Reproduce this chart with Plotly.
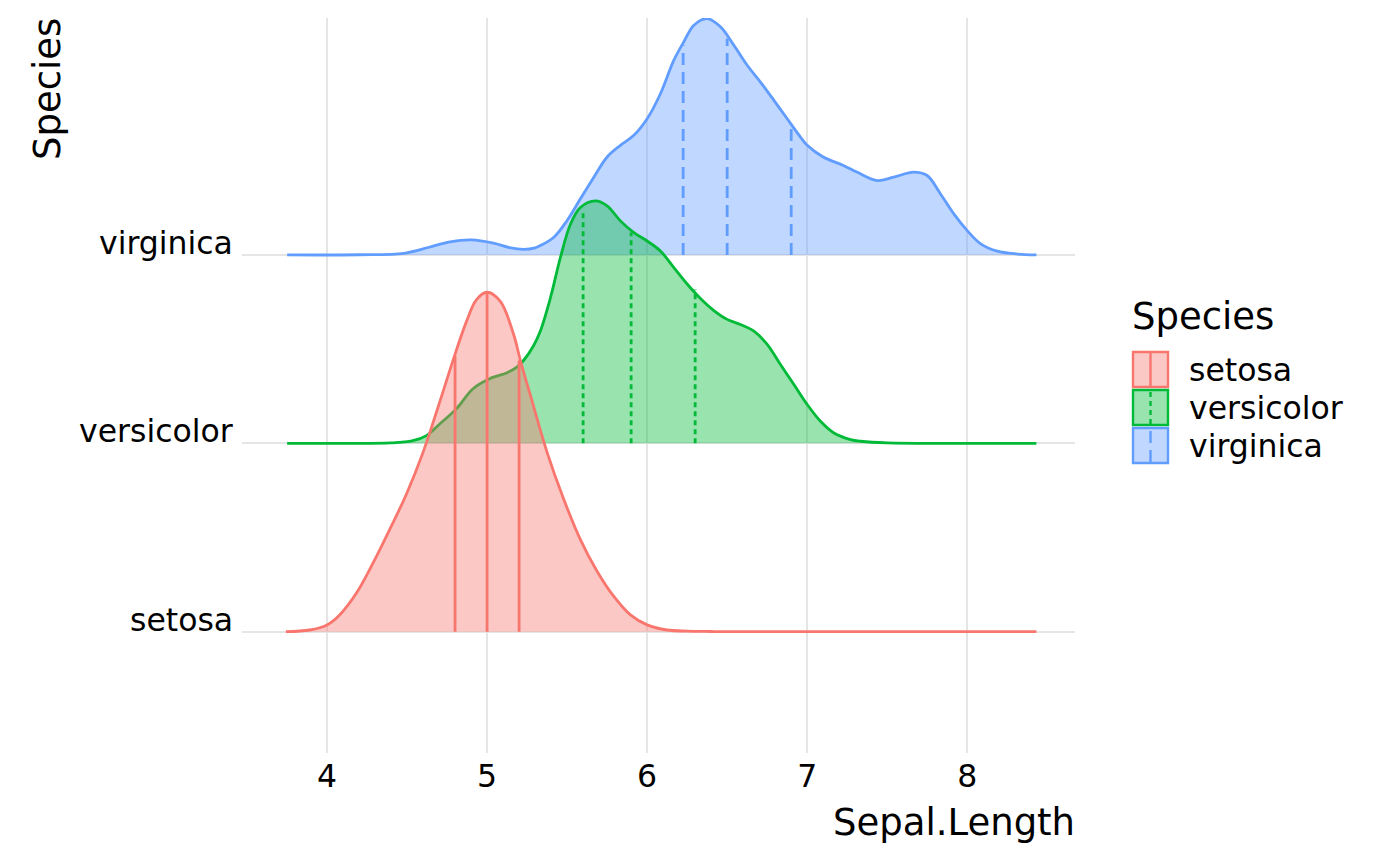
import plotly.graph_objects as go

# ---------------- data ----------------
species = ["setosa", "versicolor", "virginica"]
baselines = [1, 2, 3]

# density curves: x positions and ridge heights (in y-axis units above the baseline)
setosa_x = [3.743, 3.892, 4.0, 4.079, 4.184, 4.288, 4.392, 4.496, 4.6, 4.704, 4.798,
            4.871, 4.933, 5.0, 5.083, 5.167, 5.208, 5.271, 5.375, 5.479, 5.583, 5.688,
            5.792, 5.896, 6.0, 6.125, 6.25, 6.4, 6.6, 7.0, 7.5, 8.0, 8.432]
setosa_h = [0.0, 0.009, 0.036, 0.089, 0.205, 0.365, 0.543, 0.730, 0.952, 1.219, 1.468,
            1.646, 1.762, 1.802, 1.753, 1.575, 1.441, 1.254, 0.952, 0.703, 0.489, 0.320,
            0.187, 0.089, 0.036, 0.009, 0.003, 0.001, 0.0, 0.0, 0.0, 0.0, 0.0]

versicolor_x = [3.751, 4.2, 4.392, 4.537, 4.621, 4.704, 4.808, 4.912, 5.016, 5.125,
                5.188, 5.229, 5.292, 5.333, 5.396, 5.458, 5.521, 5.583, 5.677, 5.75,
                5.833, 5.917, 6.0, 6.083, 6.167, 6.25, 6.333, 6.417, 6.5, 6.583, 6.667,
                6.75, 6.833, 6.917, 7.0, 7.083, 7.167, 7.271, 7.333, 7.5, 8.0, 8.432]
versicolor_h = [0.0, 0.0, 0.002, 0.014, 0.041, 0.103, 0.183, 0.290, 0.343, 0.375,
                0.406, 0.441, 0.521, 0.596, 0.773, 0.986, 1.163, 1.252, 1.287, 1.261,
                1.181, 1.119, 1.074, 1.021, 0.933, 0.846, 0.769, 0.705, 0.658, 0.631, 0.596,
                0.525, 0.418, 0.312, 0.206, 0.117, 0.055, 0.020, 0.011, 0.002, 0.0, 0.0]

virginica_x = [3.751, 4.2, 4.482, 4.638, 4.76, 4.902, 5.04, 5.14, 5.229, 5.30, 5.333,
               5.417, 5.5, 5.583, 5.667, 5.75, 5.833, 5.917, 6.0, 6.083, 6.167, 6.229,
               6.292, 6.375, 6.458, 6.542, 6.625, 6.708, 6.792, 6.875, 6.958, 7.0, 7.1,
               7.226, 7.31, 7.435, 7.54, 7.665, 7.749, 7.833, 7.916, 8.0, 8.084, 8.188,
               8.314, 8.432]
virginica_h = [0.0, 0.001, 0.009, 0.041, 0.068, 0.080, 0.063, 0.039, 0.030, 0.038, 0.050,
               0.094, 0.183, 0.298, 0.413, 0.520, 0.582, 0.635, 0.723, 0.856, 1.034, 1.131,
               1.220, 1.255, 1.211, 1.113, 1.007, 0.918, 0.821, 0.723, 0.626, 0.582, 0.520,
               0.475, 0.440, 0.395, 0.413, 0.440, 0.422, 0.324, 0.218, 0.129, 0.059, 0.020,
               0.005, 0.0]

# quartile lines (25%, 50%, 75%) and their heights where they meet the curve
setosa_q = [4.8, 5.0, 5.2]
setosa_qh = [1.466, 1.802, 1.44]
versicolor_q = [5.6, 5.9, 6.3]
versicolor_qh = [1.243, 1.119, 0.817]
virginica_q = [6.225, 6.5, 6.9]
virginica_qh = [1.113, 1.149, 0.697]

x_ticks = [4, 5, 6, 7, 8]

# ---------------- styling ----------------
colors = {"setosa": "#F8766D", "versicolor": "#00BA38", "virginica": "#619CFF"}
fills = {"setosa": "rgba(248,118,109,0.4)", "versicolor": "rgba(0,186,56,0.4)",
         "virginica": "rgba(97,156,255,0.4)"}
dashes = {"setosa": "solid", "versicolor": "5px,4px", "virginica": "12px,7px"}
FONT = "DejaVu Sans"
TICK_SIZE = 31.5
TITLE_SIZE = 37
LW = 2.8

curves = {
    "setosa": (setosa_x, setosa_h, setosa_q, setosa_qh),
    "versicolor": (versicolor_x, versicolor_h, versicolor_q, versicolor_qh),
    "virginica": (virginica_x, virginica_h, virginica_q, virginica_qh),
}

fig = go.Figure()

# draw top ridge first so lower ridges overlay it
for sp, base in sorted(zip(species, baselines), key=lambda t: -t[1]):
    xs, hs, qs, qhs = curves[sp]
    fig.add_trace(go.Scatter(x=[xs[0], xs[-1]], y=[base, base], mode="lines",
                             line=dict(width=0, color="rgba(0,0,0,0)"),
                             hoverinfo="skip", showlegend=False))
    fig.add_trace(go.Scatter(x=xs, y=[base + h for h in hs], mode="lines",
                             line=dict(color=colors[sp], width=LW, shape="spline", smoothing=1.0),
                             fill="tonexty", fillcolor=fills[sp], name=sp, showlegend=False))
    for q, qh in zip(qs, qhs):
        fig.add_trace(go.Scatter(x=[q, q], y=[base, base + qh], mode="lines",
                                 line=dict(color=colors[sp], width=LW, dash=dashes[sp]),
                                 hoverinfo="skip", showlegend=False))

# ---------------- layout ----------------
# page coordinates of the panel (the page body has an 8px margin)
OFF = 8
L, R, T, B = 242, 1075, 18, 753
W, H = 1400 - OFF, 866 - OFF


def px_x(p):
    return (p - L) / (R - L)


def px_y(p):
    return (B - p) / (B - T)


fig.update_layout(
    width=W, height=H,
    margin=dict(l=L - OFF, r=W - (R - OFF), t=T - OFF, b=H - (B - OFF), pad=0),
    paper_bgcolor="white", plot_bgcolor="white",
    font=dict(family=FONT, color="black", size=TICK_SIZE),
    showlegend=False,
    xaxis=dict(range=[3.469, 8.673], tickvals=x_ticks, ticktext=[str(t) for t in x_ticks],
               showgrid=True, gridcolor="#E5E5E5", gridwidth=1.8, zeroline=False,
               showline=False, ticks="", ticklabelstandoff=1,
               tickfont=dict(size=TICK_SIZE, family=FONT, color="black")),
    yaxis=dict(range=[0.356, 4.258], tickvals=baselines, showticklabels=False,
               showgrid=True, gridcolor="#E5E5E5", gridwidth=1.8, zeroline=False,
               showline=False, ticks=""),
)

annotations = [
    dict(text="Sepal.Length", xref="paper", yref="paper", x=px_x(1077), y=px_y(822),
         xanchor="right", yanchor="middle", showarrow=False,
         font=dict(size=TITLE_SIZE, family=FONT, color="black")),
    dict(text="Species", xref="paper", yref="paper", x=px_x(47), y=px_y(16),
         xanchor="center", yanchor="top", textangle=-90, showarrow=False,
         font=dict(size=TITLE_SIZE, family=FONT, color="black")),
    dict(text="Species", xref="paper", yref="paper", x=px_x(1130), y=px_y(316),
         xanchor="left", yanchor="middle", showarrow=False,
         font=dict(size=TITLE_SIZE, family=FONT, color="black")),
]

# species labels on the y axis, sitting on their ridge baselines
for sp, base in zip(species, baselines):
    annotations.append(dict(text=sp, xref="paper", yref="y", x=px_x(235), y=base,
                            xanchor="right", yanchor="middle", yshift=12, showarrow=False,
                            font=dict(size=TICK_SIZE, family=FONT, color="black")))

shapes = []
key_tops = [352, 390, 428]
for sp, top in zip(species, key_tops):
    shapes.append(dict(type="rect", xref="paper", yref="paper",
                       x0=px_x(1133), x1=px_x(1168), y0=px_y(top + 35), y1=px_y(top),
                       line=dict(color=colors[sp], width=2.4), fillcolor=fills[sp]))
    shapes.append(dict(type="line", xref="paper", yref="paper",
                       x0=px_x(1150.5), x1=px_x(1150.5), y0=px_y(top + 34), y1=px_y(top + 1),
                       line=dict(color=colors[sp], width=2.4, dash=dashes[sp])))
    annotations.append(dict(text=sp, xref="paper", yref="paper", x=px_x(1187),
                            y=px_y(top + 18), xanchor="left", yanchor="middle",
                            showarrow=False,
                            font=dict(size=TICK_SIZE, family=FONT, color="black")))

fig.update_layout(annotations=annotations, shapes=shapes)

fig.write_html("out.html")
